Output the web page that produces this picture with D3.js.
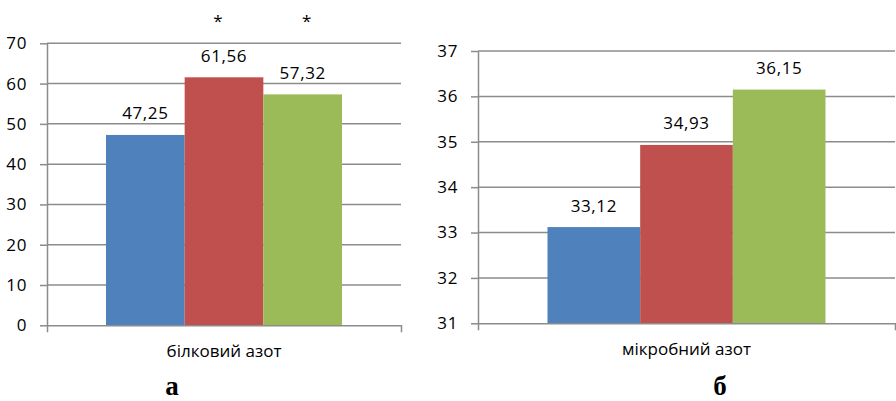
<!DOCTYPE html>
<html>
<head>
<meta charset="utf-8">
<script src="https://cdn.jsdelivr.net/npm/d3@7"></script>
<style>
  body { margin: 0; background: #fff; }
  text { font-family: "Open Sans", sans-serif; fill: #000; }
</style>
</head>
<body>
<div id="chart"></div>
<script>
// data
const seriesColors = ["#4F81BD", "#C0504D", "#9BBB59"];
const seriesKeys = ["s1", "s2", "s3"];

const leftCategory = "білковий азот";
const leftValues = [47.25, 61.56, 57.32];
const leftMarks = ["", "*", "*"];
const leftTicks = [0, 10, 20, 30, 40, 50, 60, 70];

const rightCategory = "мікробний азот";
const rightValues = [33.12, 34.93, 36.15];
const rightMarks = ["", "", ""];
const rightTicks = [31, 32, 33, 34, 35, 36, 37];

const panelLetters = ["а", "б"];

const W = 896, H = 401;
const svg = d3.select("#chart").append("svg")
  .attr("width", W).attr("height", H);

const fmt = v => d3.format(".2f")(v).replace(".", ",");

function drawPanel(cfg) {
  const g = svg.append("g");
  const y = d3.scaleLinear()
    .domain(d3.extent(cfg.ticks))
    .range([cfg.bottom, cfg.top]);
  const x = d3.scaleBand()
    .domain(seriesKeys)
    .range([cfg.left, cfg.right])
    .paddingInner(0)
    .paddingOuter(0.75);
  const cat = d3.scaleBand().domain([cfg.category]).range([cfg.left, cfg.right]);

  // gridlines
  g.append("g")
    .selectAll("line")
    .data(cfg.ticks.slice(1))
    .join("line")
    .attr("x1", cfg.left).attr("x2", cfg.right)
    .attr("y1", d => y(d)).attr("y2", d => y(d))
    .attr("stroke", "#8c8c8c").attr("stroke-width", 1.5);

  // bars
  g.append("g")
    .selectAll("rect")
    .data(cfg.values)
    .join("rect")
    .attr("x", (d, i) => x(seriesKeys[i]))
    .attr("y", d => y(d))
    .attr("width", x.bandwidth())
    .attr("height", d => y(cfg.ticks[0]) - y(d))
    .attr("fill", (d, i) => seriesColors[i]);

  // value labels
  g.append("g")
    .selectAll("text")
    .data(cfg.values)
    .join("text")
    .attr("x", (d, i) => x(seriesKeys[i]) + x.bandwidth() / 2)
    .attr("y", d => y(d) - 15.5)
    .attr("text-anchor", "middle")
    .style("font-size", "17px")
    .style("letter-spacing", "0.6px")
    .text(d => fmt(d));

  // significance marks
  g.append("g")
    .selectAll("text")
    .data(cfg.marks)
    .join("text")
    .attr("x", (d, i) => x(seriesKeys[i]) + x.bandwidth() / 2 + cfg.markShift[i])
    .attr("y", 27)
    .attr("text-anchor", "middle")
    .style("font-size", "17px")
    .text(d => d);

  // y axis
  const yAxis = g.append("g")
    .attr("transform", `translate(${cfg.left},0)`)
    .call(d3.axisLeft(y).tickValues(cfg.ticks).tickFormat(d3.format("d"))
      .tickSize(7).tickPadding(13).tickSizeOuter(0));
  yAxis.select(".domain").attr("stroke", "#8c8c8c").attr("stroke-width", 1.5);
  yAxis.selectAll(".tick line").attr("stroke", "#8c8c8c").attr("stroke-width", 1.5);
  yAxis.selectAll(".tick text")
    .style("font-size", "17px")
    .style("letter-spacing", "0.6px")
    .style("font-family", "'Open Sans', sans-serif")
    .attr("fill", "#000");

  // x axis
  const xAxis = g.append("g")
    .attr("transform", `translate(0,${cfg.bottom})`)
    .call(d3.axisBottom(cat).tickSize(0).tickPadding(20).tickSizeOuter(7));
  xAxis.select(".domain").attr("stroke", "#8c8c8c").attr("stroke-width", 1.5);
  xAxis.selectAll(".tick text")
    .style("font-size", "17px")
    .style("font-family", "'Open Sans', sans-serif")
    .attr("fill", "#000");

  // panel letter
  svg.append("text")
    .attr("x", cfg.letterX)
    .attr("y", 395)
    .attr("text-anchor", "middle")
    .style("font-family", "'Liberation Serif', 'Times New Roman', serif")
    .style("font-weight", "bold")
    .style("font-size", "27px")
    .text(cfg.letter);
}

drawPanel({
  category: leftCategory, values: leftValues, marks: leftMarks, ticks: leftTicks,
  left: 47, right: 401, top: 43.3, bottom: 325.3,
  markShift: [0, -6, 4], letter: panelLetters[0], letterX: 172
});

drawPanel({
  category: rightCategory, values: rightValues, marks: rightMarks, ticks: rightTicks,
  left: 478, right: 895, top: 51, bottom: 323.3,
  markShift: [0, 0, 0], letter: panelLetters[1], letterX: 720
});
</script>
</body>
</html>
